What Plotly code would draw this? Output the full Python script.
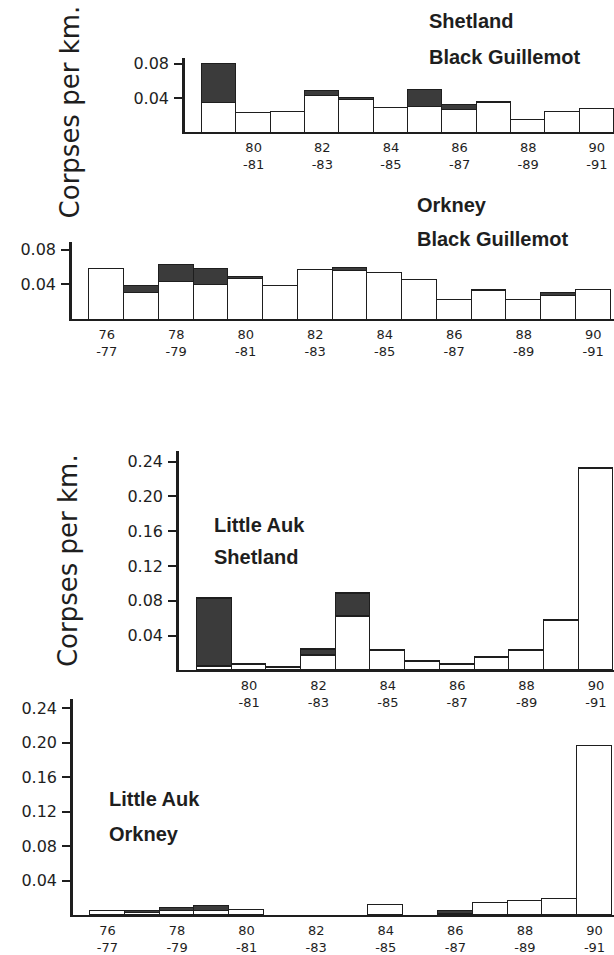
import plotly.graph_objects as go

W, H = 614, 955

# ---------------- data (corpses per km) ----------------
seasons_79 = list(range(79, 91))   # 79-80 ... 90-91
seasons_76 = list(range(76, 91))   # 76-77 ... 90-91

shet_bg_clean = [0.035, 0.023, 0.024, 0.043, 0.038, 0.029, 0.030, 0.026, 0.034, 0.015, 0.024, 0.028]
shet_bg_oiled = [0.045, 0, 0, 0.005, 0.002, 0, 0.020, 0.006, 0.002, 0, 0, 0]

ork_bg_clean = [0.058, 0.030, 0.043, 0.040, 0.047, 0.039, 0.057, 0.056, 0.054, 0.045, 0.023, 0.033, 0.022, 0.027, 0.034]
ork_bg_oiled = [0, 0.009, 0.020, 0.018, 0.002, 0, 0, 0.003, 0, 0, 0, 0.001, 0, 0.003, 0]

shet_la_clean = [0.004, 0.007, 0.003, 0.017, 0.062, 0.023, 0.010, 0.007, 0.015, 0.023, 0.057, 0.232]
shet_la_oiled = [0.079, 0, 0, 0.007, 0.026, 0, 0, 0, 0, 0, 0, 0]

ork_la_clean = [0.005, 0.002, 0.004, 0.004, 0.006, 0, 0, 0, 0.012, 0, 0.001, 0.014, 0.016, 0.018, 0.195]
ork_la_oiled = [0, 0.003, 0.004, 0.006, 0, 0, 0, 0, 0, 0, 0.004, 0, 0, 0, 0]

ticks_79 = [80, 82, 84, 86, 88, 90]
ticks_76 = [76, 78, 80, 82, 84, 86, 88, 90]

yticks_bg = [0.04, 0.08]
yticks_la = [0.04, 0.08, 0.12, 0.16, 0.20, 0.24]

# ---------------- helpers ----------------
INK = "#1e1e1e"
DARK = "#3b3b3b"


def nz(vals):
    return [v if v else None for v in vals]


def season_label(y):
    return f"{y}<br>-{(y + 1) % 100:02d}"


def px_x(p):
    return p / W


def px_y(p):
    return 1 - p / H


fig = go.Figure()

panels = [
    # (seasons, clean, oiled, ticks, yticks, xdom px, ydom px (top,bottom), xrange, yrange)
    (seasons_79, shet_bg_clean, shet_bg_oiled, ticks_79, yticks_bg, (185, 614), (55, 130), (78.5, 91.0), (0, 0.087)),
    (seasons_76, ork_bg_clean, ork_bg_oiled, ticks_76, yticks_bg, (72, 614), (240, 318), (75.5, 91.1), (0, 0.089)),
    (seasons_79, shet_la_clean, shet_la_oiled, ticks_79, yticks_la, (179, 614), (450, 671), (78.48, 91.02), (0, 0.2526)),
    (seasons_76, ork_la_clean, ork_la_oiled, ticks_76, yticks_la, (73, 614), (700, 917), (75.51, 91.06), (0, 0.250)),
]

layout_axes = {}
for i, (seas, clean, oiled, xt, yt, xd, yd, xr, yr) in enumerate(panels, start=1):
    xa = "x" if i == 1 else f"x{i}"
    ya = "y" if i == 1 else f"y{i}"
    xcent = [s + 0.5 for s in seas]
    fig.add_trace(go.Bar(
        x=xcent, y=nz(clean), width=1.0, xaxis=xa, yaxis=ya,
        marker=dict(color="white", line=dict(color=INK, width=1.2)),
        showlegend=False, hoverinfo="skip",
    ))
    fig.add_trace(go.Bar(
        x=xcent, y=nz(oiled), width=1.0, xaxis=xa, yaxis=ya,
        marker=dict(color=DARK, line=dict(color=INK, width=1.2)),
        showlegend=False, hoverinfo="skip",
    ))
    xkey = "xaxis" if i == 1 else f"xaxis{i}"
    ykey = "yaxis" if i == 1 else f"yaxis{i}"
    layout_axes[xkey] = dict(
        domain=[px_x(xd[0]), px_x(xd[1])], range=list(xr), anchor=ya,
        showline=True, linewidth=2, linecolor=INK, mirror=False,
        showgrid=False, zeroline=False, ticks="",
        tickvals=[t + 0.5 for t in xt], ticktext=[season_label(t) for t in xt],
        tickfont=dict(family="DejaVu Sans", size=13, color=INK),
        ticklabelstandoff=2, fixedrange=True,
    )
    layout_axes[ykey] = dict(
        domain=[px_y(yd[1]), px_y(yd[0])], range=list(yr), anchor=xa,
        showline=True, linewidth=2.5, linecolor=INK,
        showgrid=False, zeroline=False,
        ticks="outside", ticklen=8, tickwidth=1.5, tickcolor=INK,
        tickvals=yt, ticktext=[f"{v:.2f}" for v in yt],
        tickfont=dict(family="DejaVu Sans", size=16, color=INK),
        ticklabelstandoff=2, fixedrange=True,
    )

TITLE_FONT = dict(family="Liberation Sans, Arial, sans-serif", size=20, color=INK, weight="bold")
titles = [
    ("Shetland", 427, 18), ("Black Guillemot", 427, 54),
    ("Orkney", 415, 203), ("Black Guillemot", 415, 237),
    ("Little Auk", 212, 525), ("Shetland", 212, 557),
    ("Little Auk", 107, 800), ("Orkney", 107, 835),
]
annotations = []
for txt, x, y in titles:
    annotations.append(dict(
        text=txt, x=px_x(x), y=px_y(y), xref="paper", yref="paper",
        xanchor="left", yanchor="middle", showarrow=False, font=TITLE_FONT,
    ))

YT_FONT = dict(family="DejaVu Sans", size=26, color=INK)
for x, y in [(70, 110), (68, 561)]:
    annotations.append(dict(
        text="Corpses per km.", x=px_x(x), y=px_y(y), xref="paper", yref="paper",
        xanchor="center", yanchor="middle", showarrow=False, textangle=-90, font=YT_FONT,
    ))

fig.update_layout(
    width=W, height=H, margin=dict(l=0, r=0, t=0, b=0),
    paper_bgcolor="white", plot_bgcolor="white",
    barmode="stack", bargap=0, showlegend=False,
    annotations=annotations, **layout_axes,
)

fig.write_html(
    "out.html",
    config={"displayModeBar": False},
    post_script="document.body.style.margin='0';document.body.style.padding='0';document.body.style.overflow='hidden';",
)
